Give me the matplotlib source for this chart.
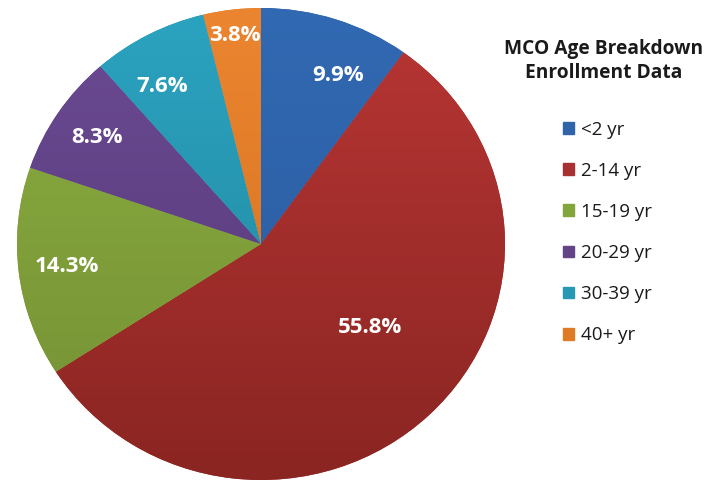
import numpy as np
import matplotlib
matplotlib.use('Agg')
import matplotlib.pyplot as plt
from matplotlib.colors import LinearSegmentedColormap

# data
labels = ['<2 yr', '2-14 yr', '15-19 yr', '20-29 yr', '30-39 yr', '40+ yr']
shares = [9.9, 55.8, 14.3, 8.3, 7.6, 3.8]
pct_text = ['9.9%', '55.8%', '14.3%', '8.3%', '7.6%', '3.8%']

# light (top) / dark (bottom) tones for the excel-like gradient
light = ['#3169B2', '#B83634', '#8BAF42', '#6B4A92', '#2BA3C0', '#EC8530']
dark = ['#2A5A9E', '#8A2522', '#748F33', '#563878', '#21849C', '#D06E1C']
legend_col = ['#2F63AA', '#A93030', '#82A53C', '#634487', '#2799B5', '#E07B25']

# where the % labels sit (fraction of radius, angle nudge in degrees)
lab_r = [0.78, 0.57, 0.80, 0.81, 0.78, 0.89]
lab_shift = [-6, 8, 0, 0, 4, 0]

W, H = 718, 482
fig = plt.figure(figsize=(W / 100, H / 100), dpi=100)
fig.patch.set_facecolor('white')

# pie is slightly wider than tall in the reference
ax = fig.add_axes([17 / W, 2 / H, 488 / W, 472 / H])
wedges, _ = ax.pie(shares, startangle=90, counterclock=False, radius=1,
                   colors=legend_col,
                   wedgeprops=dict(linewidth=0, antialiased=True))
ax.set_aspect('auto')
ax.set_xlim(-1, 1)
ax.set_ylim(-1, 1)
ax.axis('off')

# vertical gradient inside every wedge (lighter at top)
yy = np.linspace(-1, 1, 256).reshape(-1, 1)
for w, c1, c2 in zip(wedges, light, dark):
    cm = LinearSegmentedColormap.from_list('g', [c1, c2])
    im = ax.imshow(np.tile(yy, (1, 2)), cmap=cm, extent=[-1, 1, -1, 1],
                   aspect='auto', vmin=-1, vmax=1, zorder=w.get_zorder() + 0.1,
                   interpolation='bilinear')
    im.set_clip_path(w)

for w, t, r, s in zip(wedges, pct_text, lab_r, lab_shift):
    a = np.deg2rad((w.theta1 + w.theta2) / 2 + s)
    ax.text(r * np.cos(a), r * np.sin(a), t, ha='center', va='center',
            color='white', fontsize=16, fontweight='bold',
            family='Open Sans', zorder=10)

# title + legend on the right
fig.text(604 / W, 1 - 61 / H, 'MCO Age Breakdown\nEnrollment Data',
         ha='center', va='center', fontsize=13.8, fontweight='bold',
         family='Open Sans', color='#1a1a1a', linespacing=1.3)

handles = [plt.Rectangle((0, 0), 1, 1, color=c) for c in legend_col]
fig.legend(handles, labels, loc='upper left',
           bbox_to_anchor=(546 / W, 1 - 104 / H), frameon=False,
           prop=dict(family='Open Sans', size=13.5),
           handlelength=0.6, handleheight=0.6, handletextpad=0.35,
           labelspacing=1.23, labelcolor='#1a1a1a')

fig.savefig('out.png', dpi=100, facecolor='white')
